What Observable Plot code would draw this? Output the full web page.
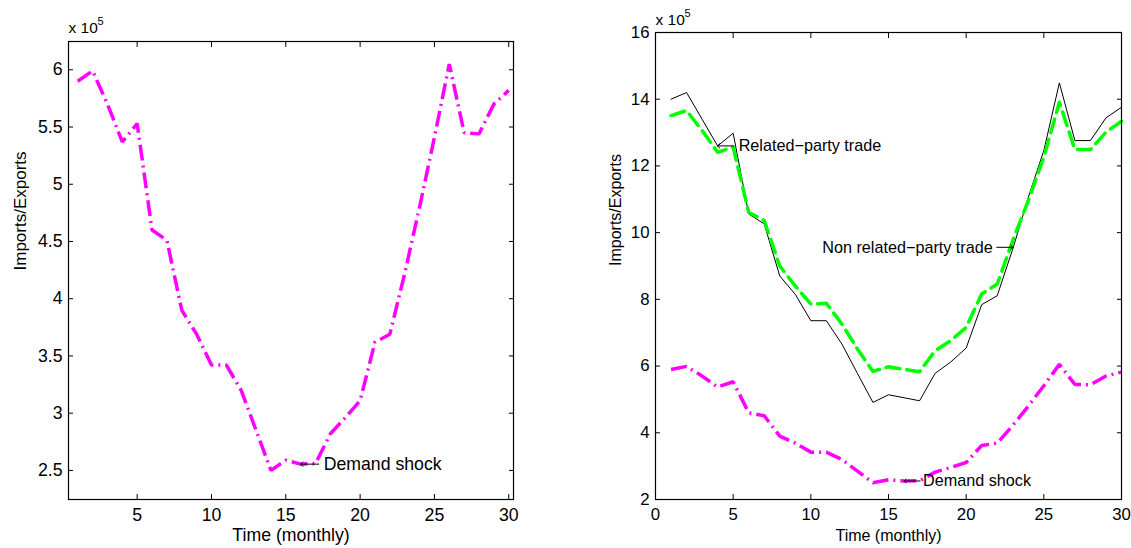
<!DOCTYPE html>
<html><head><meta charset="utf-8">
<script src="https://cdn.jsdelivr.net/npm/d3@7"></script>
<script src="https://cdn.jsdelivr.net/npm/@observablehq/plot@0.6"></script>
<style>
html,body{margin:0;padding:0;background:#fff;}
#wrap{position:relative;width:1131px;height:548px;overflow:hidden;background:#fff;}
#wrap svg{position:absolute;top:0;}
</style></head><body><div id="wrap"></div>
<script>
// ---- data (values in units of 10^5) ----
const months = [1,2,3,4,5,6,7,8,9,10,11,12,13,14,15,16,17,18,19,20,21,22,23,24,25,26,27,28,29,30];
const demandShock = [5.90,5.99,5.70,5.37,5.53,4.60,4.51,3.90,3.69,3.42,3.42,3.20,2.85,2.50,2.59,2.555,2.56,2.82,2.96,3.11,3.62,3.69,4.22,4.80,5.41,6.05,5.45,5.44,5.70,5.82];
const relatedParty = [14.0,14.2,13.4,12.6,12.98,10.56,10.26,8.70,8.15,7.36,7.36,6.66,5.78,4.91,5.14,5.05,4.96,5.78,6.12,6.54,7.84,8.11,9.51,11.06,12.46,14.49,12.76,12.76,13.44,13.76];
const nonRelatedParty = [13.51,13.66,13.06,12.41,12.56,10.61,10.36,9.00,8.40,7.86,7.88,7.26,6.51,5.84,5.98,5.90,5.83,6.46,6.76,7.16,8.16,8.46,9.76,10.96,12.26,13.91,12.49,12.49,13.01,13.34];

const leftXTicks = [5,10,15,20,25,30];
const leftYTicks = [2.5,3,3.5,4,4.5,5,5.5,6];
const rightXTicks = [0,5,10,15,20,25,30];
const rightYTicks = [2,4,6,8,10,12,14,16];

const xLabel = "Time (monthly)";
const yLabel = "Imports/Exports";
const expBase = "x 10";
const expPow = "5";
const demandNote = "Demand shock";
const relatedNote = "Related\u2212party trade";
const nonRelatedNote = "Non related\u2212party trade";

// annotation anchor points (data coordinates)
const demandNoteAt = {m: 16, v: 2.555};
const relatedNoteAt = {m: 4, v: 12.6};
const nonRelatedNoteAt = {m: 23, v: 9.56};

// ---- tables ----
const rows = (vals) => months.map((m, i) => ({m, v: vals[i]}));
const demandRows = rows(demandShock);
const relatedRows = rows(relatedParty);
const nonRelatedRows = rows(nonRelatedParty);

const FONT = "'Liberation Sans', Arial, Helvetica, sans-serif";
const fmt = d => String(d);

function boxAxes(xt, yt, fs) {
  return [
    Plot.axisX(xt, {anchor: "bottom", tickSize: -5, tickPadding: 14, tickFormat: fmt, label: null, fontSize: fs}),
    Plot.axisX(xt, {anchor: "top", tickSize: -5, tickFormat: () => "", label: null}),
    Plot.axisY(yt, {anchor: "left", tickSize: -5, tickPadding: 11, tickFormat: fmt, label: null, fontSize: fs}),
    Plot.axisY(yt, {anchor: "right", tickSize: -5, tickFormat: () => "", label: null}),
    Plot.frame({stroke: "black", strokeWidth: 1.2})
  ];
}

// arrow tip sits on the annotated point (like MATLAB "\leftarrow text")
function noteLeft(at, label, fs, len, gap) {
  return [
    Plot.vector([at], {x: "m", y: "v", length: len, rotate: -90, anchor: "end", shape: "arrow", r: 2.2, stroke: "black", strokeWidth: 1}),
    Plot.text([at], {x: "m", y: "v", text: () => label, textAnchor: "start", lineAnchor: "middle", fontSize: fs, fill: "black", dx: gap})
  ];
}
function noteRight(at, label, fs, len, gap) {
  return [
    Plot.vector([at], {x: "m", y: "v", length: len, rotate: 90, anchor: "end", shape: "arrow", r: 2.2, stroke: "black", strokeWidth: 1}),
    Plot.text([at], {x: "m", y: "v", text: () => label, textAnchor: "end", lineAnchor: "middle", fontSize: fs, fill: "black", dx: -gap})
  ];
}

function labels(fsY, fsX, dxY, dyExp, dySup) {
  return [
    Plot.text([yLabel], {frameAnchor: "left", rotate: -90, dx: dxY, lineAnchor: "middle", fontSize: fsY, fill: "black"}),
    Plot.text([xLabel], {frameAnchor: "bottom", dy: 36, lineAnchor: "middle", fontSize: fsX, fill: "black"}),
    Plot.text([expBase], {frameAnchor: "top-left", textAnchor: "start", lineAnchor: "middle", dy: dyExp, fontSize: 15.5, fill: "black"}),
    Plot.text([expPow], {frameAnchor: "top-left", textAnchor: "start", lineAnchor: "middle", dx: 29, dy: dySup, fontSize: 11, fill: "black"})
  ];
}

const demandStyle = {x: "m", y: "v", stroke: "#ff00ff", strokeWidth: 3.5, strokeDasharray: "16,5,2,5", strokeLinejoin: "miter", strokeLinecap: "butt"};

// ---- left panel ----
const left = Plot.plot({
  width: 530, height: 548,
  marginLeft: 68, marginRight: 17, marginTop: 41, marginBottom: 49,
  style: {fontFamily: FONT, fontSize: "17px", background: "white", color: "black"},
  x: {domain: [0.38, 30.32]},
  y: {domain: [2.246, 6.247]},
  marks: [
    Plot.line(demandRows, demandStyle),
    ...noteLeft(demandNoteAt, demandNote, 17.7, 18, 23),
    ...boxAxes(leftXTicks, leftYTicks, 17.7),
    ...labels(17, 17.7, -48, -13, -20)
  ]
});
left.style.left = "0px";

// ---- right panel ----
const right = Plot.plot({
  width: 601, height: 548,
  marginLeft: 125, marginRight: 10, marginTop: 32, marginBottom: 49,
  style: {fontFamily: FONT, fontSize: "16px", background: "white", color: "black"},
  x: {domain: [0, 30]},
  y: {domain: [2, 16]},
  marks: [
    Plot.line(relatedRows, {x: "m", y: "v", stroke: "black", strokeWidth: 1}),
    Plot.line(nonRelatedRows, {x: "m", y: "v", stroke: "#00ff00", strokeWidth: 3.5, strokeDasharray: "14,7"}),
    Plot.line(demandRows, demandStyle),
    ...noteLeft(relatedNoteAt, relatedNote, 16.2, 16, 21),
    ...noteRight(nonRelatedNoteAt, nonRelatedNote, 16.2, 16, 20),
    ...noteLeft(demandNoteAt, demandNote, 16.2, 16, 19),
    ...boxAxes(rightXTicks, rightYTicks, 16.8),
    ...labels(16, 16, -40, -12, -19)
  ]
});
right.style.left = "530px";

const wrap = document.getElementById("wrap");
wrap.appendChild(left);
wrap.appendChild(right);
</script>
</body></html>
